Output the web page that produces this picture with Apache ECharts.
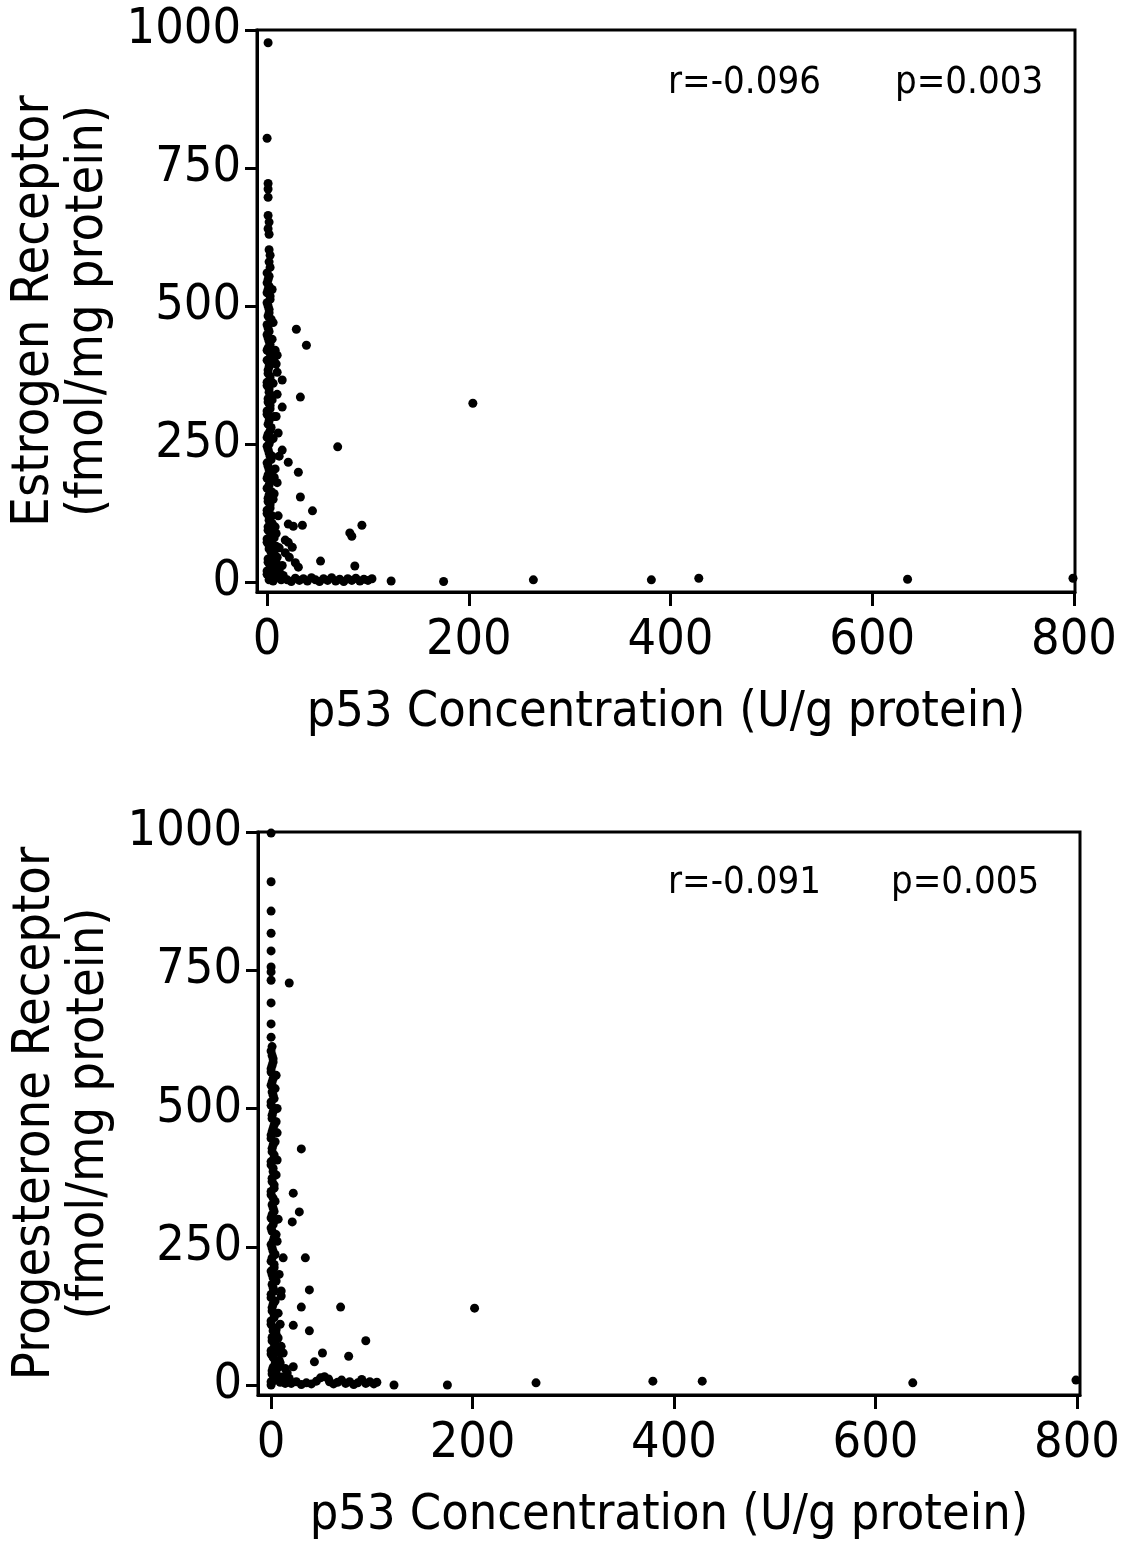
<!DOCTYPE html>
<html>
<head>
<meta charset="utf-8">
<script src="https://cdn.jsdelivr.net/npm/echarts@6/dist/echarts.min.js"></script>
<style>
  html, body { margin: 0; padding: 0; background: #fff; }
  #chart { width: 1123px; height: 1551px; }
</style>
</head>
<body>
<div id="chart"></div>
<script>
// tick labels
var xTicks = [0, 200, 400, 600, 800];
var yTicks = [0, 250, 500, 750, 1000];

// estrogen receptor vs p53 (top panel)
var erCore = [
  [1,977],[0,804],[1,722],[1,712],[1,697],[1,664],[2,652],[1,640],[2,630],[2,602],[3,592],[2,580],[3,570],
  [0,560],[1,548],[2,536],[0,524],[3,512],[1,500],[2,488],[4,476],[0,466],[2,454],[1,442],[3,430],
  [0,420],[4,408],[2,396],[1,384],[3,372],[0,362],[2,350],[4,338],[1,326],[3,314],[0,304],[2,292],
  [4,280],[1,268],[3,256],[0,246],[2,234],[4,222],[1,210],[3,198],[0,188],[2,176],[4,164],[1,152],
  [3,140],[0,130],[2,118],[5,106],[1,94],[3,82],[0,72],[2,60],[5,48],[1,36],[3,24],[0,14],[2,4],[6,2]
];
var erFill = [
  [2,554],[0,542],[1,530],[3,518],[0,506],[2,494],[1,482],[3,470],[1,460],[0,448],[2,436],[1,424],
  [3,414],[0,402],[2,390],[1,378],[3,366],[0,356],[2,344],[1,332],[3,320],[0,310],[2,298],[1,286],
  [3,274],[0,262],[2,250],[1,240],[3,228],[0,216],[2,204],[1,194],[3,182],[0,170],[2,158],[1,146],
  [3,134],[0,124],[2,112],[1,100],[4,88],[0,78],[2,66],[4,54],[1,42],[3,30],[0,20],[2,10],[5,14],[6,30]
];
var erEdge = [
  [5,530],[6,470],[5,440],[7,400],[6,360],[5,330],[7,300],[6,260],[5,228],[7,190],[6,150],[5,120],
  [8,100],[7,80],[6,60],[8,40],[7,20],[9,8],
  [8,420],[10,411],[9,395],[10,380],[15,366],[10,340],[15,317],[9,300],[11,270],[15,239],[12,228],
  [8,205],[10,180],[7,160],[11,120],[18,76],[21,72],[25,63],[18,53],[22,45],[28,35],[31,27],[15,30],
  [12,20],[10,45],[12,62],[9,88],[16,12],[4,70],[7,55],[9,35],[5,25],[11,10],[14,4],[8,15],[9,65]
];
var erSpread = [
  [29,458],[39,429],[33,335],[204,324],[70,245],[21,217],[31,199],[33,154],[45,129],
  [21,105],[26,101],[35,103],[94,103],[82,89],[84,83],[53,38],[87,29],
  [20,4],[24,1],[28,7],[32,3],[36,6],[40,2],[44,8],[48,4],[52,1],[56,6],[60,3],[64,8],[68,2],
  [72,5],[76,1],[80,6],[84,3],[88,7],[92,2],[96,5],[100,3],[104,6],
  [123,2],[175,1],[264,4],[381,4],[428,7],[635,5],[799,7]
];

// progesterone receptor vs p53 (bottom panel)
var prCore = [
  [0,998],[0,910],[0,857],[0,817],[0,785],[0,756],[0,747],[0,732],[0,691],[0,653],[0,629],[1,612],
  [1,596],[2,584],[0,572],[3,560],[1,548],[4,536],[2,524],[0,512],[3,500],[1,488],[5,476],[2,464],
  [0,452],[4,440],[1,428],[3,416],[0,404],[2,392],[5,380],[1,368],[3,356],[0,344],[4,332],[2,320],
  [1,308],[3,296],[0,284],[5,272],[2,260],[1,248],[4,236],[0,224],[3,212],[1,200],[5,188],[2,176],
  [0,164],[4,152],[1,140],[3,128],[0,116],[2,104],[5,92],[1,80],[3,68],[0,56],[4,44],[2,32],[1,20],
  [3,8],[0,0]
];
var prFill = [
  [0,604],[2,590],[1,578],[0,566],[2,554],[0,542],[1,530],[3,518],[0,506],[2,494],[1,482],[3,470],
  [1,458],[0,446],[2,434],[1,422],[3,410],[0,398],[2,386],[1,374],[3,362],[0,350],[2,338],[1,326],
  [3,314],[0,302],[2,290],[1,278],[3,266],[0,254],[2,242],[1,230],[3,218],[0,206],[2,194],[1,182],
  [3,170],[0,158],[2,146],[1,134],[3,122],[0,110],[2,98],[1,86],[4,74],[0,62],[2,50],[4,38],[1,26],
  [3,14],[0,6],[5,10]
];
var prEdge = [
  [6,456],[6,407],[5,560],[6,500],[7,300],[6,260],[10,170],[10,161],[8,200],[7,130],[7,85],[9,110],
  [12,58],[10,70],[8,45],[14,30],[12,15],[16,22],[9,5],[22,33],[18,12],[6,30],
  [5,100],[7,60],[9,40],[6,18],[11,8],[14,3]
];
var prSpread = [
  [18,727],[30,427],[22,347],[28,313],[21,295],[12,230],[34,230],[38,172],[30,141],[69,141],[202,139],
  [22,108],[38,98],[94,80],[51,58],[43,42],[77,52],
  [20,3],[25,6],[30,1],[35,4],[40,2],[45,7],[49,13],[53,15],[57,11],[58,6],[62,2],[66,5],[70,9],
  [74,3],[78,6],[82,1],[86,4],[90,10],[94,3],[98,6],[102,2],[105,5],
  [122,0],[175,0],[263,4],[379,7],[428,7],[637,4],[799,9]
];

var stats = [
  { r: 'r=-0.096', p: 'p=0.003' },
  { r: 'r=-0.091', p: 'p=0.005' }
];

var font = 'DejaVu Sans Condensed, DejaVu Sans, sans-serif';

var chart = echarts.init(document.getElementById('chart'));

function makeX(idx, min, max) {
  return {
    type: 'value', gridIndex: idx, min: min, max: max,
    name: 'p53 Concentration (U/g protein)',
    nameLocation: 'middle', nameGap: 96,
    nameTextStyle: { fontFamily: font, fontSize: 50, color: '#000' },
    splitLine: { show: false },
    axisLine: { show: true, onZero: false, lineStyle: { color: '#000', width: 3 } },
    axisTick: { show: true, length: 14, customValues: xTicks, lineStyle: { color: '#000', width: 3 } },
    axisLabel: {
      customValues: xTicks, margin: 24, fontFamily: font, fontSize: 50, color: '#000',
      formatter: function (v) { return String(v); }
    }
  };
}

function makeY(idx, title) {
  return {
    type: 'value', gridIndex: idx, min: -18, max: 1000,
    name: title,
    nameLocation: 'middle', nameGap: 138, nameRotate: 90,
    nameTextStyle: { fontFamily: font, fontSize: 52, lineHeight: 54, color: '#000' },
    splitLine: { show: false },
    axisLine: { show: true, onZero: false, lineStyle: { color: '#000', width: 3 } },
    axisTick: { show: true, length: 12, customValues: yTicks, lineStyle: { color: '#000', width: 3 } },
    axisLabel: {
      customValues: yTicks, margin: 16, fontFamily: font, fontSize: 50, color: '#000',
      formatter: function (v) { return String(v); }
    }
  };
}

function statText(x, y, txt) {
  return {
    type: 'text', left: x, top: y,
    style: { text: txt, fontFamily: font, fontSize: 38, fill: '#000' }
  };
}

option = {
  backgroundColor: '#fff',
  animation: false,
  grid: [
    { left: 257, top: 30, width: 818, height: 562, outerBoundsMode: 'none', containLabel: false,
      show: true, borderColor: '#000', borderWidth: 3 },
    { left: 258, top: 832, width: 822, height: 563, outerBoundsMode: 'none', containLabel: false,
      show: true, borderColor: '#000', borderWidth: 3 }
  ],
  xAxis: [makeX(0, -10, 801), makeX(1, -13, 803)],
  yAxis: [
    makeY(0, 'Estrogen Receptor\n(fmol/mg protein)'),
    makeY(1, 'Progesterone Receptor\n(fmol/mg protein)')
  ],
  series: [
    {
      type: 'scatter', xAxisIndex: 0, yAxisIndex: 0,
      symbol: 'circle', symbolSize: 9, itemStyle: { color: '#000', opacity: 1 },
      data: erCore.concat(erFill, erEdge, erSpread)
    },
    {
      type: 'scatter', xAxisIndex: 1, yAxisIndex: 1,
      symbol: 'circle', symbolSize: 9, itemStyle: { color: '#000', opacity: 1 },
      data: prCore.concat(prFill, prEdge, prSpread)
    }
  ],
  graphic: [
    statText(668, 64, stats[0].r),
    statText(895, 64, stats[0].p),
    statText(668, 864, stats[1].r),
    statText(891, 864, stats[1].p)
  ]
};

chart.setOption(option);
</script>
</body>
</html>
